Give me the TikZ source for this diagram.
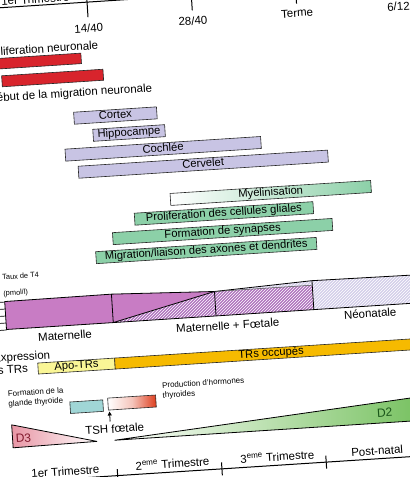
\documentclass[tikz,border=0pt]{standalone}
\usepackage{fontspec}
\setmainfont{Liberation Sans}
\usetikzlibrary{patterns,arrows.meta}
\definecolor{redbar}{RGB}{216,36,44}
\definecolor{lav}{RGB}{200,196,228}
\definecolor{mint}{RGB}{140,208,168}
\definecolor{pinkT}{RGB}{200,124,196}
\definecolor{purpT}{RGB}{176,116,190}
\definecolor{lavT}{RGB}{212,206,234}
\definecolor{apo}{RGB}{250,246,150}
\definecolor{occ}{RGB}{246,186,0}
\definecolor{thyr}{RGB}{160,214,214}
\definecolor{prodred}{RGB}{222,62,30}
\definecolor{dtrois}{RGB}{232,150,165}
\definecolor{ddeux}{RGB}{112,190,88}
\definecolor{dtroistxt}{RGB}{130,25,45}
\definecolor{ddeuxtxt}{RGB}{25,85,25}
\begin{document}
\begin{tikzpicture}[x=1pt,y=-1pt,
  lbl/.style={font=\fontsize{11.5}{12}\selectfont, inner sep=0pt},
  smalltxt/.style={font=\fontsize{8}{9.8}\selectfont, inner sep=0pt, align=left},
  tinytxt/.style={font=\fontsize{7.4}{8}\selectfont, inner sep=0pt},
  bar/.style={draw=black!85, line width=0.6pt, inner sep=0pt, minimum height=12,
    font=\fontsize{11.2}{12}\selectfont, text height=8pt, text depth=2.2pt},
  axisline/.style={line width=1pt, black},
  tickline/.style={line width=1pt, black},
  outline/.style={line width=0.8pt, black, line join=round},
  hatch/.style={pattern=north east lines, pattern color=white},
  arrowline/.style={line width=0.8pt, -{Triangle[length=4pt,width=4pt]}},
]
\fill[white] (0,0) rectangle (410,477);
\useasboundingbox (0,0) rectangle (410,477);
\begin{scope}[rotate around={3.7:(205,238)}, every node/.append style={transform shape}]

% ---------- top axis
\coordinate (ta0) at (-30,-5);
\coordinate (ta1) at (440,-5);
\draw[axisline] (ta0) -- (ta1);
\coordinate (tk1) at (102.5,-12); \coordinate (tk1b) at (102.5,10);
\coordinate (tk2) at (207,-12);   \coordinate (tk2b) at (207,10);
\coordinate (tk3) at (311.5,-12); \coordinate (tk3b) at (311.5,10);
\draw[tickline] (tk1) -- (tk1b);
\draw[tickline] (tk2) -- (tk2b);
\draw[tickline] (tk3) -- (tk3b);
\node[lbl, anchor=south] (ttri1) at (51,-7) {1er Trimestre};
\node[lbl, anchor=south] (ttri2) at (155,-7) {2\textsuperscript{eme} Trimestre};
\node[lbl] (l1440) at (102.5,21) {14/40};
\node[lbl] (l2840) at (207,20.5) {28/40};
\node[lbl] (lterme) at (311.5,19.5) {Terme};
\node[lbl] (l612) at (413,19.5) {6/12};

% ---------- red bars
\node[bar, fill=redbar, minimum width=108, minimum height=10.5] (bprolif) at (39,50.75) {};
\node[lbl, anchor=east] (tprolif) at (111,38.5) {Proliferation neuronale};
\node[bar, fill=redbar, minimum width=101.5, minimum height=11] (bmigr) at (63.25,68.5) {};
\node[lbl, anchor=east] (tmigr) at (162,85.5) {Début de la migration neuronale};

% ---------- purple bars
\node[bar, fill=lav, minimum width=83] (cortex) at (123.5,110) {Cortex};
\node[bar, fill=lav, minimum width=72] (hippo) at (136,128.3) {Hippocampe};
\node[bar, fill=lav, minimum width=196] (cochlee) at (169,146.3) {Cochlée};
\node[bar, fill=lav, minimum width=250] (cervelet) at (208,164.2) {Cervelet};

% ---------- green bars
\node[bar, left color=white, right color=mint, minimum width=201] (myel) at (273.5,197.3) {Myélinisation};
\node[bar, fill=mint, minimum width=179] (glia) at (225.5,214.7) {Proliferation des cellules gliales};
\node[bar, fill=mint, minimum width=220] (syn) at (223,232.7) {Formation de synapses};
\node[bar, fill=mint, minimum width=221] (axo) at (205.5,250.6) {Migration/liaison des axones et dendrites};

% ---------- T4 chart
\node[tinytxt, anchor=west] (taux) at (0,264) {Taux de T4};
\node[tinytxt, anchor=west] (pmol) at (0,281) {(pmol/l)};
\coordinate (A0) at (1,288.5);
\coordinate (A1) at (108,288);
\coordinate (A2) at (211,292);
\coordinate (A3) at (309,287.5);
\coordinate (A4) at (425,288.5);
\coordinate (B0) at (1,316.5);
\coordinate (B1) at (108,316.5);
\coordinate (B2) at (211,316.5);
\coordinate (B3) at (309,316.5);
\coordinate (B4) at (425,316.5);
\coordinate (M3) at (309,292);
\fill[pinkT] (A0) -- (A1) -- (A2) -- (B1) -- (B0) -- cycle;
\fill[purpT] (B1) -- (A2) -- (B2) -- cycle;
\fill[hatch] (B1) -- (A2) -- (B2) -- cycle;
\fill[purpT] (A2) -- (M3) -- (B3) -- (B2) -- cycle;
\fill[hatch] (A2) -- (M3) -- (B3) -- (B2) -- cycle;
\fill[lavT] (A2) -- (A3) -- (M3) -- cycle;
\fill[hatch] (A2) -- (A3) -- (M3) -- cycle;
\fill[lavT] (A3) -- (A4) -- (B4) -- (B3) -- cycle;
\fill[hatch] (A3) -- (A4) -- (B4) -- (B3) -- cycle;
\draw[outline] (B4) -- (B0) -- (A0) -- (A1) -- (A2) -- (A3) -- (A4);
\draw[outline] (A1) -- (B1) -- (A2) -- (B2);
\draw[outline] (A3) -- (B3);
\draw[line width=0.5pt, black!70] (A2) -- (M3);
\foreach \v in {289,296,303,310,317}{
  \draw[line width=0.7pt] (-7,\v) -- (1,\v);
}
\node[lbl] (tmat) at (59,326.5) {Maternelle};
\node[lbl] (tmatf) at (222,326.8) {Maternelle + Fœtale};
\node[lbl] (tneo) at (365,324) {Néonatale};

% ---------- TRs
\node[lbl, anchor=east] (texpr) at (43,345.5) {Expression};
\node[lbl, anchor=east] (tdes) at (20,356.5) {des TRs};
\node[bar, fill=apo, minimum width=77, minimum height=11] (apo) at (68.5,357.5) {Apo-TRs};
\node[bar, fill=occ, minimum width=313, minimum height=11] (occ) at (263.5,357.5) {TRs occupés};

% ---------- thyroid
\node[smalltxt, anchor=west] (tform) at (-2,386.5) {Formation de la\\glande thyroide};
\node[bar, fill=thyr, minimum width=33, minimum height=11.5] (thyr) at (76,398.7) {};
\node[bar, left color=white, right color=prodred, middle color=prodred!30, minimum width=48, minimum height=12] (prod) at (121.5,397.5) {};
\node[smalltxt, anchor=west] (tprod) at (152.5,388) {Production d'hormones\\thyroides};
\coordinate (arrtail) at (98.5,415);
\coordinate (arrtip) at (98.5,405);
\draw[arrowline] (arrtail) -- (arrtip);
\node[lbl] (ttsh) at (102.5,422.5) {TSH fœtale};

% ---------- deiodinases
\coordinate (D3a) at (0,412);
\coordinate (D3b) at (84,434);
\coordinate (D3c) at (0,435);
\shade[left color=dtrois, right color=white] (D3a) -- (D3b) -- (D3c) -- cycle;
\draw[outline] (D3a) -- (D3b) -- (D3c) -- cycle;
\node[font=\fontsize{12}{12}\selectfont, inner sep=0pt, text=dtroistxt, anchor=west] (td3) at (3,426) {D3};
\coordinate (D2a) at (102,434);
\coordinate (D2b) at (425,409);
\coordinate (D2c) at (425,434);
\shade[left color=white, right color=ddeux] (D2a) -- (D2b) -- (D2c) -- cycle;
\draw[outline] (D2c) -- (D2a) -- (D2b);
\node[font=\fontsize{12}{12}\selectfont, inner sep=0pt, text=ddeuxtxt] (td2) at (373,424) {D2};

% ---------- bottom axis
\coordinate (ba0) at (-30,469.5);
\coordinate (ba1) at (440,469.5);
\draw[axisline] (ba0) -- (ba1);
\coordinate (bk1) at (102.5,463); \coordinate (bk1b) at (102.5,476);
\coordinate (bk2) at (207,463);   \coordinate (bk2b) at (207,476);
\coordinate (bk3) at (311.5,463); \coordinate (bk3b) at (311.5,476);
\draw[tickline] (bk1) -- (bk1b);
\draw[tickline] (bk2) -- (bk2b);
\draw[tickline] (bk3) -- (bk3b);
\node[lbl] (btri1) at (50.5,462) {1er Trimestre};
\node[lbl] (btri2) at (158,461) {2\textsuperscript{eme} Trimestre};
\node[lbl] (btri3) at (263,461) {3\textsuperscript{eme} Trimestre};
\node[lbl] (bpost) at (363,461.5) {Post-natal};
\end{scope}
\end{tikzpicture}
\end{document}
